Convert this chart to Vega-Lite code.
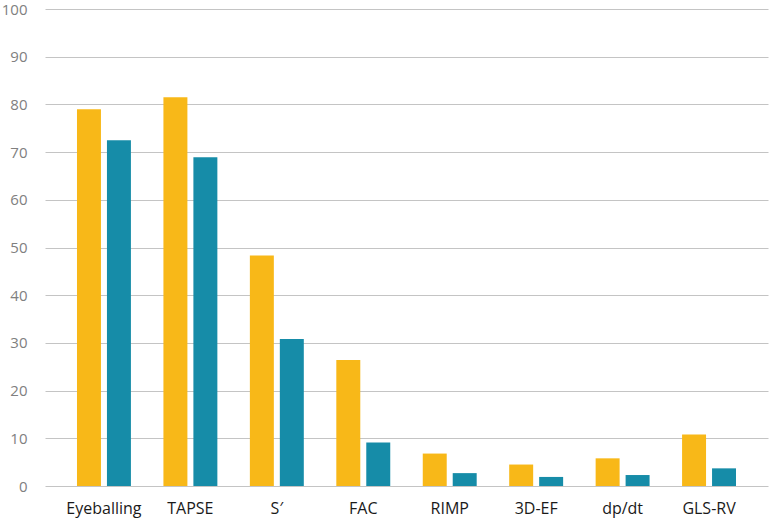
{
  "$schema": "https://vega.github.io/schema/vega-lite/v6.json",
  "width": 723,
  "height": 477,
  "autosize": {"type": "none"},
  "padding": {"left": 45, "top": 9, "right": 6, "bottom": 37},
  "background": "white",
  "config": {"view": {"stroke": null}, "font": "Open Sans"},
  "data": {
    "values": [
      {"method": "Eyeballing", "group": "A", "value": 79.0},
      {"method": "Eyeballing", "group": "B", "value": 72.5},
      {"method": "TAPSE", "group": "A", "value": 81.5},
      {"method": "TAPSE", "group": "B", "value": 68.9},
      {"method": "S′", "group": "A", "value": 48.3},
      {"method": "S′", "group": "B", "value": 30.8},
      {"method": "FAC", "group": "A", "value": 26.4},
      {"method": "FAC", "group": "B", "value": 9.1},
      {"method": "RIMP", "group": "A", "value": 6.8},
      {"method": "RIMP", "group": "B", "value": 2.7},
      {"method": "3D-EF", "group": "A", "value": 4.5},
      {"method": "3D-EF", "group": "B", "value": 1.9},
      {"method": "dp/dt", "group": "A", "value": 5.8},
      {"method": "dp/dt", "group": "B", "value": 2.3},
      {"method": "GLS-RV", "group": "A", "value": 10.8},
      {"method": "GLS-RV", "group": "B", "value": 3.7}
    ]
  },
  "mark": {"type": "bar"},
  "encoding": {
    "x": {
      "field": "method",
      "type": "nominal",
      "sort": null,
      "scale": {"paddingInner": 0.376, "paddingOuter": 0.37},
      "axis": {
        "title": null,
        "labelAngle": 0,
        "domain": false,
        "ticks": false,
        "labelFontSize": 16,
        "labelColor": "#1a1a1a",
        "labelPadding": 14
      }
    },
    "xOffset": {
      "field": "group",
      "type": "nominal",
      "scale": {"paddingInner": 0.2, "paddingOuter": 0}
    },
    "y": {
      "field": "value",
      "type": "quantitative",
      "scale": {"domain": [0, 100], "nice": false},
      "axis": {
        "title": null,
        "values": [0, 10, 20, 30, 40, 50, 60, 70, 80, 90, 100],
        "domain": false,
        "ticks": false,
        "grid": true,
        "gridColor": "#c4c4c4",
        "gridWidth": 1,
        "labelFontSize": 15,
        "labelColor": "#808080",
        "labelPadding": 18
      }
    },
    "color": {
      "field": "group",
      "type": "nominal",
      "scale": {"domain": ["A", "B"], "range": ["#F8B818", "#168CA8"]},
      "legend": null
    }
  }
}
